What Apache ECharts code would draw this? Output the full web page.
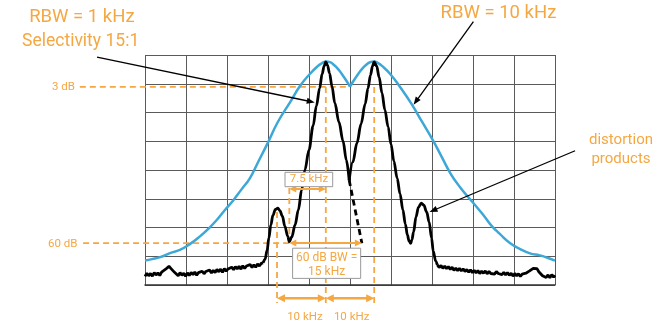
<!DOCTYPE html>
<html>
<head>
<meta charset="utf-8">
<script src="https://cdn.jsdelivr.net/npm/echarts@6/dist/echarts.min.js"></script>
<style>
html, body { margin: 0; padding: 0; background: #fff; }
#chart { width: 657px; height: 324px; }
</style>
</head>
<body>
<div id="chart"></div>
<script>
// x: position across the 10 divisions (10 units / div), y: dB (10 dB / div)
var blueLeft = [[0,-71.5],[1.7,-71.0],[3.7,-70.3],[6.1,-68.9],[8.5,-67.8],[11.0,-65.7],[13.4,-63.1],
  [15.4,-60.5],[17.5,-57.4],[19.5,-53.9],[21.5,-50.6],[23.4,-47.0],[25.6,-42.8],[27.6,-37.2],
  [29.8,-31.0],[32.4,-23.3],[35.4,-16.4],[37.8,-10.8],[40.2,-6.6],[42.2,-3.8],[43.2,-2.8],
  [44.2,-2.3],[45.1,-2.5],[46.1,-3.5],[47.1,-4.9],[48.0,-6.6],[49.0,-8.7],[50.0,-11.0]];
var blueRight = [[50.0,-11.0],[51.0,-8.7],[52.0,-6.6],[52.9,-4.9],[53.9,-3.5],[54.9,-2.5],[55.9,-2.3],
  [56.8,-2.8],[57.8,-3.8],[59.8,-6.6],[62.2,-11.1],[65.0,-17.0],[67.6,-23.3],[70.2,-29.6],
  [72.4,-35.5],[74.6,-41.4],[76.8,-45.9],[78.8,-49.4],[80.7,-52.5],[82.7,-56.0],[84.6,-59.5],
  [86.6,-62.3],[89.0,-65.4],[91.5,-67.5],[93.9,-69.0],[96.3,-69.7],[98.3,-70.6],[100,-71.5]];

var noiseLeft = [[0.0,-77.0],[0.45,-75.9],[0.9,-76.8],[1.35,-76.0],[1.8,-76.9],[2.25,-75.7],
  [2.7,-76.5],[3.15,-75.8],[3.6,-76.7],[4.05,-75.5],[4.5,-75.9],[4.95,-74.6],[5.4,-74.1],
  [5.85,-73.5],[6.3,-74.2],[6.75,-74.5],[7.2,-75.6],[7.65,-76.1],[8.1,-76.8],[8.55,-75.7],
  [9.0,-76.6],[9.45,-75.9],[9.9,-77.0],[10.35,-75.8],[10.8,-76.7],[11.25,-75.6],[11.7,-76.4],
  [12.15,-75.5],[12.6,-76.6],[13.05,-75.7],[13.5,-76.3],[13.95,-75.2],[14.4,-76.1],[14.85,-75.3],
  [15.3,-75.9],[15.75,-74.8],[16.2,-75.8],[16.65,-74.9],[17.1,-75.7],[17.55,-74.6],[18.0,-75.4],
  [18.45,-74.5],[18.9,-75.6],[19.35,-74.3],[19.8,-75.2],[20.25,-74.4],[20.7,-74.9],[21.15,-73.8],
  [21.6,-74.7],[22.05,-73.6],[22.5,-74.4],[22.95,-73.5],[23.4,-74.5],[23.85,-73.3],[24.3,-74.2],
  [24.75,-73.4],[25.2,-74.0],[25.65,-72.9],[26.1,-73.9],[26.55,-73.0],[27.0,-73.8],[27.45,-72.7],
  [27.9,-73.4],[28.35,-72.5],[28.8,-72.3]];
var peakOne = [[28.8,-72.3],[29.3,-71.0],[29.8,-67.8],[30.2,-63.7],[30.7,-59.1],[31.2,-55.7],
  [31.8,-53.7],[32.4,-53.3],[32.9,-54.1],[33.5,-56.0],[34.1,-59.5],[34.8,-63.0],[35.2,-65.0],
  [35.8,-63.3],[36.6,-59.1],[37.4,-53.9],[38.2,-47.0],[39.0,-40.0],[40.0,-33.0],[41.0,-24.7],
  [41.8,-17.7],[42.6,-11.5],[43.2,-6.6],[43.7,-3.8],[44.1,-2.4],[44.5,-3.5],[45.0,-6.3],
  [45.6,-10.8],[46.3,-16.7],[47.3,-23.3],[48.3,-29.9],[49.1,-36.5],[49.8,-43.5]];
var peakTwo = [[49.8,-43.5],[50.7,-37.2],[51.7,-30.6],[52.7,-24.0],[53.7,-17.0],[54.4,-11.5],
  [55.0,-7.0],[55.5,-3.8],[55.9,-2.4],[56.5,-3.8],[57.1,-7.7],[57.8,-13.2],[58.5,-19.1],
  [59.3,-25.0],[60.0,-31.0],[60.7,-36.9],[61.5,-42.8],[62.2,-48.3],[62.9,-53.9],[63.5,-58.8],
  [64.0,-62.6],[64.4,-64.7],[64.8,-65.5],[65.1,-64.3],[65.5,-61.6],[66.1,-56.3],[66.7,-52.9],
  [67.4,-51.5],[68.0,-52.2],[68.7,-54.6],[69.3,-58.1],[69.9,-63.7],[70.3,-68.2],[70.9,-71.7],
  [71.3,-73.0]];
var hiddenFlank = [[49.8,-43.5],[52.9,-65.5]];
var noiseRight = [[71.3,-73.0],[71.75,-73.9],[72.2,-73.2],[72.65,-74.2],[73.1,-73.4],[73.55,-74.3],
  [74.0,-73.6],[74.45,-74.6],[74.9,-73.8],[75.35,-74.9],[75.8,-74.1],[76.25,-75.0],[76.7,-74.2],
  [77.15,-75.1],[77.6,-74.4],[78.05,-75.3],[78.5,-74.6],[78.95,-75.5],[79.4,-74.7],[79.85,-75.7],
  [80.3,-74.9],[80.75,-75.8],[81.2,-75.0],[81.65,-76.0],[82.1,-75.2],[82.55,-75.9],[83.0,-75.1],
  [83.45,-76.1],[83.9,-75.3],[84.35,-76.0],[84.8,-75.4],[85.25,-76.2],[85.7,-75.3],[86.15,-76.0],
  [86.6,-75.5],[87.05,-76.4],[87.5,-75.6],[87.95,-76.5],[88.4,-75.7],[88.85,-76.6],[89.3,-75.9],
  [89.75,-76.9],[90.2,-76.0],[90.65,-76.8],[91.1,-76.1],[91.55,-77.0],[92.0,-76.2],[92.45,-76.8],
  [92.9,-75.9],[93.35,-76.2],[93.8,-75.1],[94.25,-75.2],[94.7,-74.2],[95.15,-74.0],[95.6,-74.3],
  [96.05,-75.4],[96.5,-75.6],[96.95,-76.8],[97.4,-76.3],[97.85,-77.4],[98.3,-76.5],[98.75,-77.5],
  [99.2,-76.4],[99.65,-77.3],[100.0,-76.6]];

var ORANGE = '#F5A742';
var BLUE = '#3DA8D8';

var chart = echarts.init(document.getElementById('chart'));

function trace(data, color, width, smooth, dashed) {
  var s = {
    type: 'line', data: data, symbol: 'none', smooth: smooth || false,
    z: color === BLUE ? 2 : 3,
    lineStyle: { color: color, width: width, type: dashed ? [6, 4] : 'solid' }
  };
  if (color !== BLUE) s.smoothMonotone = 'x';
  return s;
}

var gridLine = { lineStyle: { color: '#5a5a5a', width: 1 } };
chart.setOption({
  animation: false,
  grid: { left: 145, right: 102, top: 55, bottom: 39 },
  xAxis: { type: 'value', min: 0, max: 100, interval: 10,
    axisLabel: { show: false }, axisTick: { show: false },
    axisLine: { show: true, onZero: false, lineStyle: { color: '#333', width: 1.5 } },
    splitLine: gridLine },
  yAxis: { type: 'value', min: -80, max: 0, interval: 10,
    axisLabel: { show: false }, axisTick: { show: false },
    axisLine: { show: false }, splitLine: gridLine },
  series: [
    trace(blueLeft, BLUE, 2.5, 0.5),
    trace(blueRight, BLUE, 2.5, 0.5),
    trace(noiseLeft, '#000', 2.8),
    trace(peakOne, '#000', 2.8, 0.35),
    trace(peakTwo, '#000', 2.8, 0.35),
    trace(noiseRight, '#000', 2.8),
    trace(hiddenFlank, '#000', 2.8, false, true)
  ]
});

// annotations, placed in the same data coordinates
function P(p) { return chart.convertToPixel({ gridIndex: 0 }, p); }

var els = [];
function dash(a, b) {
  els.push({ type: 'line', z: 1, shape: { x1: P(a)[0], y1: P(a)[1], x2: P(b)[0], y2: P(b)[1] },
    style: { stroke: ORANGE, lineWidth: 1.8, lineDash: [6, 4] } });
}
function head(tip, tail, len, hw, color) {
  var dx = tip[0] - tail[0], dy = tip[1] - tail[1], d = Math.sqrt(dx * dx + dy * dy);
  var ux = dx / d, uy = dy / d, bx = tip[0] - ux * len, by = tip[1] - uy * len;
  els.push({ type: 'polygon', z: 20,
    shape: { points: [tip, [bx - uy * hw, by + ux * hw], [bx + uy * hw, by - ux * hw]] },
    style: { fill: color } });
  return [tip[0] - ux * (len - 1), tip[1] - uy * (len - 1)];
}
function arrow(from, to, color, w, len, hw, both) {
  var a = P(from), b = P(to);
  var e = head(b, a, len, hw, color);
  var s = both ? head(a, b, len, hw, color) : a;
  els.push({ type: 'line', z: 19, shape: { x1: s[0], y1: s[1], x2: e[0], y2: e[1] },
    style: { stroke: color, lineWidth: w } });
}
function label(t, at, size, align) {
  var p = P(at);
  els.push({ type: 'text', z: 30, style: { text: t, x: p[0], y: p[1], fill: ORANGE,
    font: size + 'px Roboto', textAlign: align || 'center', textVerticalAlign: 'middle' } });
}
function box(x0, x1, y0, y1) {
  var a = P([x0, y0]), b = P([x1, y1]);
  els.push({ type: 'rect', z: 25, shape: { x: a[0], y: a[1], width: b[0] - a[0], height: b[1] - a[1] },
    style: { fill: '#fff', stroke: '#999', lineWidth: 1 } });
}

dash([-15.9, -11.1], [50.0, -11.1]);
dash([44.1, -11.1], [44.1, -86.3]);
dash([55.9, -11.1], [55.9, -86.3]);
dash([32.2, -54.6], [32.2, -86.3]);
dash([35.2, -46.3], [35.2, -65.4]);
dash([-15.1, -65.4], [35.2, -65.4]);

arrow([35.2, -65.4], [52.9, -65.4], ORANGE, 2, 7, 3.5, true);
arrow([35.2, -46.6], [44.1, -46.6], ORANGE, 2, 7, 3.5, true);
arrow([32.2, -84.6], [44.1, -84.6], ORANGE, 2.5, 8, 4, true);
arrow([44.1, -84.6], [55.9, -84.6], ORANGE, 2.5, 8, 4, true);

arrow([-11.7, -0.7], [41.4, -16.5], '#000', 1.3, 8, 3);
arrow([80.1, 11.6], [65.5, -17.3], '#000', 1.3, 8, 3);
arrow([104.9, -33.3], [69.4, -54.6], '#000', 1.3, 8, 3);

box(34.15, 45.78, -40.8, -45.8);
box(36.0, 52.6, -67.2, -77.7);
label('7.5 kHz', [40.0, -43.3], 11.5);
label('60 dB BW =', [44.3, -70.7], 12);
label('15 kHz', [44.3, -75.6], 12);

label('RBW = 1 kHz', [-15.4, 13.2], 18.5);
label('Selectivity 15:1', [-15.7, 4.5], 17.5);
label('RBW = 10 kHz', [86.2, 14.5], 18.5);
label('distortion', [116.1, -29.6], 15);
label('products', [116.1, -36.3], 15);
label('3 dB', [-17.1, -11.3], 11.5, 'right');
label('60 dB', [-16.5, -65.7], 11.5, 'right');
label('10 kHz', [39.0, -91.2], 11.5);
label('10 kHz', [50.4, -91.2], 11.5);

chart.setOption({ graphic: { elements: els } });
</script>
</body>
</html>
